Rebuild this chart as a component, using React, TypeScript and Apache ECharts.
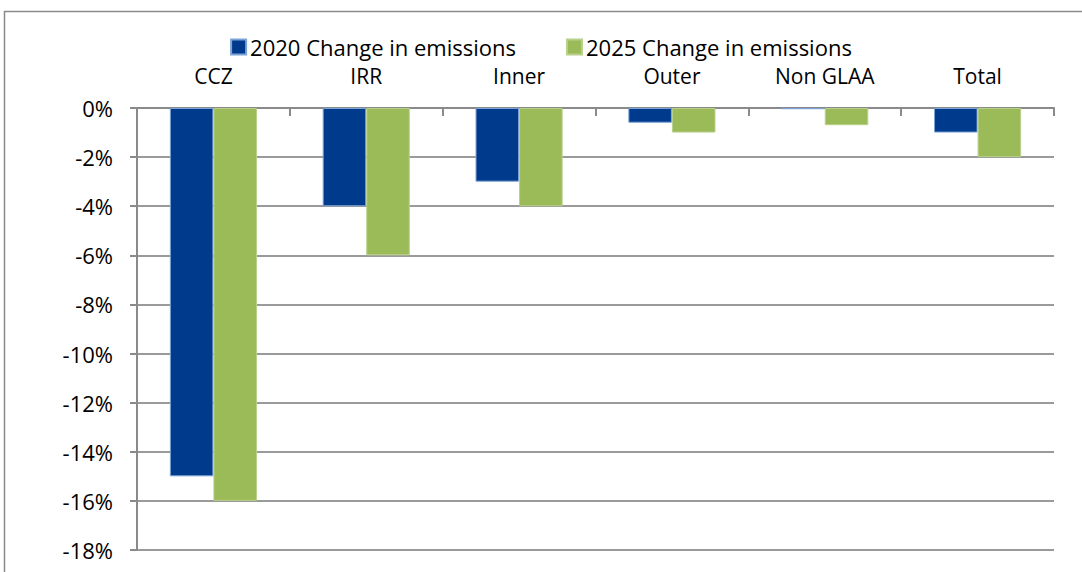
import React, { useEffect, useRef } from "react";
import * as echarts from "echarts";

const categories = ["CCZ", "IRR", "Inner", "Outer", "Non GLAA", "Total"];
const series2020 = [-15, -4, -3, -0.6, -0.05, -1.0];
const series2025 = [-16, -6, -4, -1.0, -0.7, -2.0];
const seriesNames = ["2020 Change in emissions", "2025 Change in emissions"];

const FONT = "'Open Sans', 'Noto Sans', sans-serif";

export default function App() {
  const ref = useRef<HTMLDivElement>(null);
  useEffect(() => {
    if (!ref.current) return;
    const chart = echarts.init(ref.current, undefined, { renderer: "svg" });
    chart.setOption({
      animation: false,
      textStyle: { fontFamily: FONT, color: "#000" },
      graphic: [
        { type: "line", shape: { x1: 4, y1: 11.5, x2: 1082, y2: 11.5 }, style: { stroke: "#8a8a8a", lineWidth: 1.5 } },
        { type: "line", shape: { x1: 4.5, y1: 11, x2: 4.5, y2: 572 }, style: { stroke: "#8a8a8a", lineWidth: 1.5 } },
      ],
      legend: {
        top: 36,
        left: "center",
        padding: 0,
        itemWidth: 15,
        itemHeight: 15,
        itemGap: 50,
        icon: "rect",
        textStyle: { fontFamily: FONT, fontSize: 22, lineHeight: 20, color: "#000", padding: [0, 0, 0, -1] },
        data: seriesNames,
      },
      grid: { left: 137, right: 28, top: 108, bottom: 22, containLabel: false },
      xAxis: {
        type: "category",
        position: "top",
        data: categories,
        axisLine: { show: true, lineStyle: { color: "#8a8a8a", width: 2 } },
        axisTick: { show: true, inside: true, length: 8, lineStyle: { color: "#8a8a8a", width: 2 } },
        axisLabel: { fontFamily: FONT, fontSize: 21, lineHeight: 20, color: "#000", margin: 22 },
        splitLine: { show: false },
      },
      yAxis: {
        type: "value",
        min: -18,
        max: 0,
        interval: 2,
        axisLine: { show: true, lineStyle: { color: "#8a8a8a", width: 2 } },
        axisTick: { show: true, length: 7, lineStyle: { color: "#8a8a8a", width: 2 } },
        axisLabel: { fontFamily: FONT, fontSize: 22, color: "#000", margin: 24, formatter: (v: number) => `${v}%` },
        splitLine: { show: true, lineStyle: { color: "#9a9a9a", width: 2 } },
      },
      series: [
        {
          name: seriesNames[0],
          type: "bar",
          data: series2020,
          barGap: "0%",
          barCategoryGap: "43%",
          itemStyle: { color: "#003A8C", borderColor: "#7BA3D6", borderWidth: 1 },
        },
        {
          name: seriesNames[1],
          type: "bar",
          data: series2025,
          itemStyle: { color: "#9BBB59", borderColor: "#B8D08A", borderWidth: 1 },
        },
      ],
    });
    return () => chart.dispose();
  }, []);
  return <div ref={ref} style={{ position: "absolute", left: 0, top: 0, width: 1082, height: 572 }} />;
}
